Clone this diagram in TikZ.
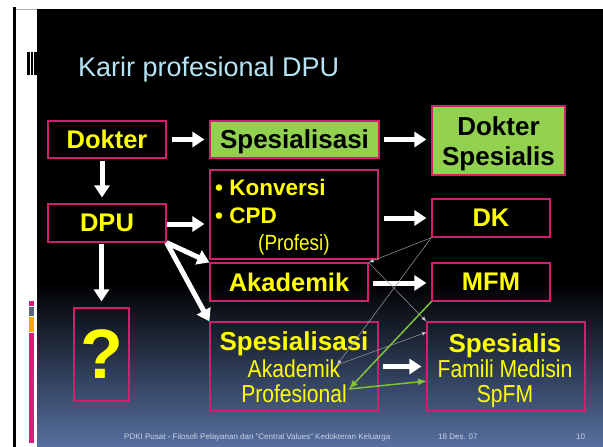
\documentclass[tikz,border=0pt]{standalone}
\usepackage{fontspec}
\setmainfont{Liberation Sans}
\newfontfamily\narrowf[FakeStretch=0.86]{Liberation Sans}
\usetikzlibrary{arrows.meta}
\newcommand{\fsz}[1]{\fontsize{#1}{#1}\selectfont}
\definecolor{pinkb}{RGB}{210,30,110}
\definecolor{greenf}{RGB}{146,208,80}
\definecolor{yel}{RGB}{255,255,0}
\definecolor{titlec}{RGB}{182,228,245}
\definecolor{footc}{RGB}{200,210,230}
\definecolor{bgblue}{RGB}{87,112,160}
\definecolor{glin}{RGB}{128,192,60}
\definecolor{barpink}{RGB}{225,25,120}
\definecolor{bargray}{RGB}{90,102,120}
\definecolor{barorange}{RGB}{245,168,0}
\begin{document}
\begin{tikzpicture}[x=1pt,y=-1pt,
  box/.style={draw=pinkb, line width=1.2pt, inner sep=0pt, text depth=0pt},
  gbox/.style={box, fill=greenf},
  ytext/.style={text=yel, font=\bfseries\fsz{#1}},
  tx/.style={inner sep=0pt, anchor=base},
  bigarrow/.style={draw=white, line width=5pt, -{Triangle[length=12pt,width=15pt]}},
  thinarrow/.style={draw=gray!75, line width=0.5pt, -{Latex[length=5pt,width=4pt,fill=white]}},
  greenarrow/.style={draw=glin, line width=1.5pt, -{Latex[length=9pt,width=7pt]}},
]
\useasboundingbox (0,0) rectangle (603,447);
\fill[white] (0,0) rectangle (603,447);
% frame and side panel
\fill[black] (13,7) rectangle (15.5,447);
\draw[gray!60, line width=0.8pt] (16,9) -- (37,9);
\fill[black] (37,9) rectangle (603,284);
\shade[top color=black, bottom color=bgblue] (37,283) rectangle (603,447);
\fill[black] (27,52) rectangle (29.5,75);
\fill[black] (31,52) rectangle (33,75);
\fill[black] (34,52) rectangle (37,75);
\fill[barpink] (29,301) rectangle (34,306);
\fill[bargray] (29,307) rectangle (34,316);
\fill[barorange] (29,317) rectangle (34,332);
\fill[barpink] (29,333) rectangle (34,443);

% title
\node[tx, anchor=base west, text=titlec, font=\fsz{27}] (title) at (78,76) {Karir profesional DPU};

% boxes
\node[box, minimum width=118pt, minimum height=37pt, ytext=25.5] (dokter) at (107,139.5) {Dokter};
\node[gbox, minimum width=169pt, minimum height=37pt, font=\bfseries\fsz{26}] (spes1) at (294.5,139.5) {Spesialisasi};
\node[gbox, minimum width=133pt, minimum height=69pt] (dspes) at (498.5,140.5) {};
\node[tx, font=\bfseries\fsz{26}] (dspesA) at (498.5,135) {Dokter};
\node[tx, font=\bfseries\fsz{26}] (dspesB) at (498.5,165) {Spesialis};

\node[box, minimum width=118pt, minimum height=38pt, ytext=25.5] (dpu) at (107,223) {DPU};
\node[box, minimum width=168pt, minimum height=89pt] (konv) at (294,214.5) {};
\node[tx, anchor=base west, ytext=22.5] (konvA) at (215,195) {\textbullet\ Konversi};
\node[tx, anchor=base west, ytext=22.5] (konvB) at (215,223) {\textbullet\ CPD};
\node[tx, anchor=base west, text=yel, font=\narrowf\fsz{22}] (konvC) at (258,250) {(Profesi)};

\node[box, minimum width=118pt, minimum height=38pt, ytext=25.5] (dk) at (491,218) {DK};
\node[box, minimum width=158pt, minimum height=38pt, ytext=25.5] (akad) at (289,282) {Akademik};
\node[box, minimum width=118pt, minimum height=38pt, ytext=25.5] (mfm) at (491,282) {MFM};

\node[box, minimum width=55pt, minimum height=93pt, ytext=70] (q) at (101.5,354.5) {?};

\node[box, minimum width=168pt, minimum height=89pt] (spes2) at (294,366.5) {};
\node[tx, ytext=26] (spes2A) at (294,350) {Spesialisasi};
\node[tx, text=yel, font=\narrowf\fsz{24.5}] (spes2B) at (294,377) {Akademik};
\node[tx, text=yel, font=\narrowf\fsz{24.5}] (spes2C) at (294,402) {Profesional};

\node[box, minimum width=158pt, minimum height=89pt] (sfm) at (506,366.5) {};
\node[tx, ytext=26] (sfmA) at (505,352) {Spesialis};
\node[tx, text=yel, font=\narrowf\fsz{24.5}] (sfmB) at (505,377) {Famili Medisin};
\node[tx, text=yel, font=\narrowf\fsz{24.5}] (sfmC) at (505,402) {SpFM};

% footer
\node[tx, anchor=base west, text=footc, font=\fsz{8}] (foot1) at (124,439) {PDKI Pusat - Filosofi Pelayanan dan "Central Values" Kedokteran Keluarga};
\node[tx, anchor=base west, text=footc, font=\fsz{8}] (foot2) at (438,439) {18 Des. 07};
\node[tx, anchor=base west, text=footc, font=\fsz{8}] (foot3) at (576,439) {10};

% helper coordinates
\coordinate (c1) at (337,365);
\coordinate (c3) at (427,332);
\coordinate (c4) at (349,389);
\coordinate (c5) at (427,381);

% big arrows
\draw[bigarrow, shorten <=5pt, shorten >=5pt] (dokter.east) -- (spes1.west);
\draw[bigarrow, shorten <=4pt, shorten >=5pt] (spes1.east) -- (spes1.east -| dspes.west);
\draw[bigarrow, shorten <=2pt, shorten >=6pt] ([xshift=-5pt]dokter.south) -- ([xshift=-5pt]dpu.north);
\draw[bigarrow, shorten >=5pt] ([yshift=-1pt]dpu.east) -- ([yshift=-1pt]dpu.east -| konv.west);
\draw[bigarrow, shorten <=5pt, shorten >=5pt] (konv.east |- dk.west) -- (dk.west);
\draw[bigarrow] (dpu.south east) -- (akad.north west);
\draw[bigarrow] (dpu.south east) -- (spes2.north west);
\draw[bigarrow, shorten <=1pt, shorten >=6pt] (q.north |- dpu.south) -- (q.north);
\draw[bigarrow, shorten <=4pt, shorten >=5pt] ([yshift=-1pt]akad.east) -- ([yshift=-1pt]mfm.west);
\draw[bigarrow, shorten <=4pt, shorten >=5pt] (spes2.east) -- (sfm.west);

% thin arrows
\draw[thinarrow] (dk.south west) -- (akad.north east);
\draw[thinarrow] (dk.south west) -- (c1);
\draw[thinarrow] (akad.north east) -- (sfm.north west);
\draw[thinarrow] (c1) -- (c3);

% green arrows
\draw[greenarrow] (mfm.south west) -- (c4);
\draw[greenarrow] (c4) -- (c5);
\end{tikzpicture}
\end{document}
